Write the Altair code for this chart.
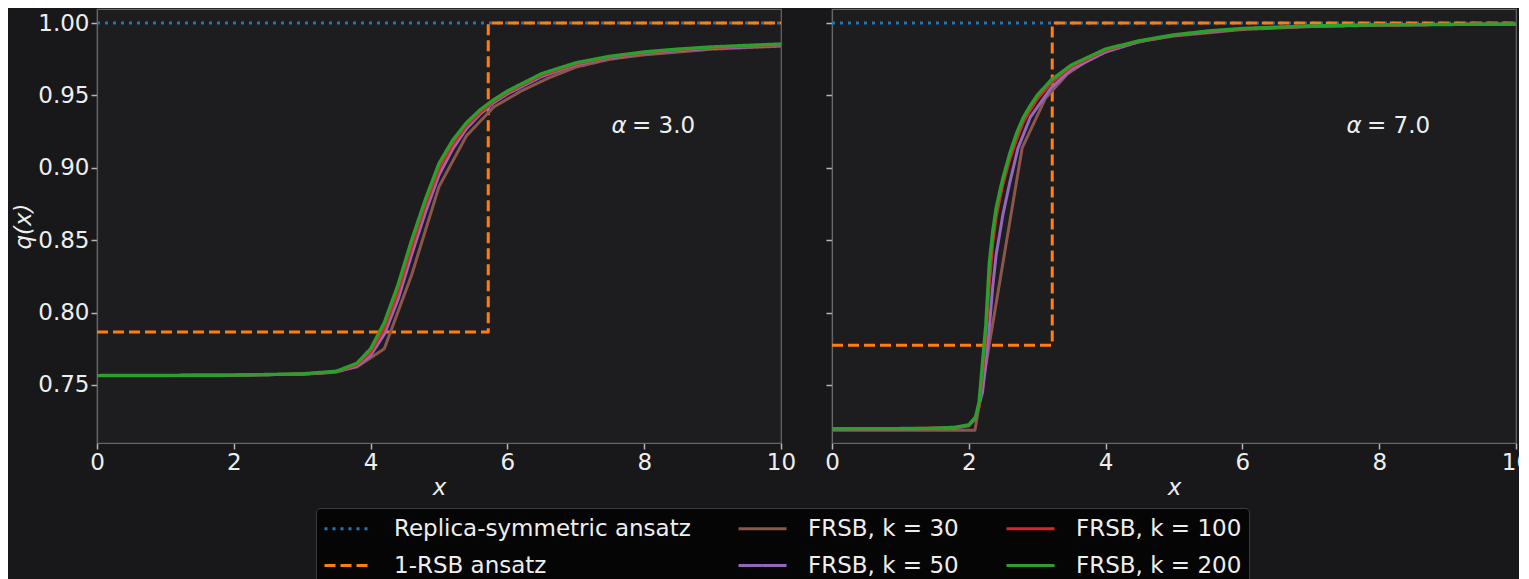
import altair as alt
import pandas as pd

# ---------------- data: left panel (alpha = 3.0) ----------------
L_RS_X = [0.0, 10.0]
L_RS_Q = [1.0, 1.0]
L_1RSB_X = [0.0, 5.72, 5.72, 10.0]
L_1RSB_Q = [0.7866, 0.7866, 1.0, 1.0]

L_X = [0, 1, 2, 3, 3.5, 3.8, 4.0, 4.2, 4.4, 4.6, 4.8, 5.0, 5.2, 5.4, 5.6, 5.8,
       6.0, 6.5, 7.0, 7.5, 8.0, 8.5, 9.0, 9.5, 10]
L_K200 = [0.7565, 0.7566, 0.7568, 0.7577, 0.7595, 0.765, 0.775, 0.793, 0.819, 0.850,
          0.878, 0.903, 0.919, 0.931, 0.940, 0.947, 0.953, 0.965, 0.9725, 0.977,
          0.980, 0.982, 0.9835, 0.9845, 0.9855]
L_K100 = [0.7565, 0.7566, 0.7568, 0.7576, 0.7592, 0.7640, 0.7725, 0.789, 0.814, 0.845,
          0.874, 0.899, 0.916, 0.929, 0.938, 0.946, 0.952, 0.964, 0.9718, 0.9765,
          0.9795, 0.9815, 0.983, 0.984, 0.985]
L_K50 = [0.7565, 0.7566, 0.7568, 0.7575, 0.7590, 0.7630, 0.7705, 0.785, 0.809, 0.840,
         0.869, 0.895, 0.913, 0.927, 0.937, 0.945, 0.951, 0.963, 0.9712, 0.976,
         0.979, 0.981, 0.9825, 0.9835, 0.9845]
L_K30_X = [0, 1, 2, 3, 3.4, 3.8, 4.2, 4.6, 5.0, 5.4, 5.8, 6.2, 6.6, 7.0, 7.5, 8, 8.5, 9, 9.5, 10]
L_K30 = [0.7565, 0.7566, 0.7568, 0.7574, 0.7585, 0.7625, 0.775, 0.826, 0.887, 0.922,
         0.942, 0.953, 0.962, 0.9695, 0.975, 0.978, 0.980, 0.982, 0.983, 0.984]

# ---------------- data: right panel (alpha = 7.0) ----------------
R_RS_X = [0.0, 10.0]
R_RS_Q = [1.0, 1.0]
R_1RSB_X = [0.0, 3.22, 3.22, 10.0]
R_1RSB_Q = [0.7775, 0.7775, 1.0, 1.0]

R_K200_X = [0, 1, 1.5, 1.8, 2.0, 2.1, 2.15, 2.2, 2.25, 2.3, 2.35, 2.4, 2.45, 2.5, 2.6,
            2.7, 2.8, 2.9, 3.0, 3.2, 3.5, 4.0, 4.5, 5.0, 5.5, 6.0, 7.0, 8.0, 9.0, 10.0]
R_K200 = [0.7198, 0.7199, 0.7201, 0.7208, 0.7225, 0.728, 0.738, 0.765, 0.792, 0.834,
          0.856, 0.872, 0.883, 0.893, 0.910, 0.924, 0.935, 0.943, 0.950, 0.9605,
          0.971, 0.982, 0.9878, 0.9918, 0.9945, 0.9962, 0.998, 0.9987, 0.999, 0.9992]
R_K100_X = [0, 1, 1.8, 2.0, 2.1, 2.15, 2.2, 2.25, 2.3, 2.35, 2.4, 2.45, 2.5, 2.6, 2.7,
            2.8, 2.9, 3.0, 3.2, 3.5, 4.0, 4.5, 5.0, 5.5, 6.0, 7.0, 8.0, 9.0, 10.0]
R_K100 = [0.7197, 0.7198, 0.7206, 0.7222, 0.7275, 0.735, 0.758, 0.784, 0.820, 0.848,
          0.866, 0.878, 0.889, 0.906, 0.920, 0.932, 0.940, 0.9475, 0.9585, 0.9698,
          0.9812, 0.9875, 0.9916, 0.9943, 0.996, 0.9979, 0.9986, 0.999, 0.9992]
R_K50_X = [0, 1, 1.8, 2.0, 2.1, 2.2, 2.25, 2.3, 2.35, 2.4, 2.5, 2.6, 2.72, 2.9, 3.2,
           3.5, 4.0, 4.5, 5.0, 6.0, 7.0, 8.0, 9.0, 10.0]
R_K50 = [0.7195, 0.7196, 0.7203, 0.7218, 0.727, 0.745, 0.765, 0.79, 0.818, 0.84,
         0.868, 0.89, 0.9137, 0.935, 0.955, 0.968, 0.980, 0.9872, 0.9915, 0.996,
         0.9978, 0.9986, 0.999, 0.9992]
R_K30_X = [0, 1, 2.09, 2.78, 3.12, 3.44, 3.8, 4.2, 4.6, 5.0, 6.0, 7.0, 8.0, 9.0, 10.0]
R_K30 = [0.7187, 0.7187, 0.7188, 0.9137, 0.948, 0.9648, 0.976, 0.984, 0.988, 0.991,
         0.9955, 0.9975, 0.9985, 0.999, 0.9992]

# ---------------- series names / styles ----------------
S_RS = "Replica-symmetric ansatz"
S_1RSB = "1-RSB ansatz"
S_30 = "FRSB, k = 30"
S_50 = "FRSB, k = 50"
S_100 = "FRSB, k = 100"
S_200 = "FRSB, k = 200"

LEGEND_ORDER = [S_RS, S_30, S_100, S_1RSB, S_50, S_200]
LEGEND_COLORS = ["#1f77b4", "#8c564b", "#d62728", "#ff7f0e", "#9467bd", "#2ca02c"]
LEGEND_DASHES = [[3, 5], [1, 0], [1, 0], [11, 5], [1, 0], [1, 0]]
DRAW_ORDER = [S_RS, S_1RSB, S_30, S_50, S_100, S_200]

FONT = "DejaVu Sans"
FS = 23


def frame(series_list):
    rows = []
    for name, xs, qs in series_list:
        for i, (x, q) in enumerate(zip(xs, qs)):
            rows.append({"series": name, "x": x, "q": q, "i": i})
    return pd.DataFrame(rows)


left_df = frame([
    (S_RS, L_RS_X, L_RS_Q), (S_1RSB, L_1RSB_X, L_1RSB_Q),
    (S_30, L_K30_X, L_K30), (S_50, L_X, L_K50),
    (S_100, L_X, L_K100), (S_200, L_X, L_K200),
])
right_df = frame([
    (S_RS, R_RS_X, R_RS_Q), (S_1RSB, R_1RSB_X, R_1RSB_Q),
    (S_30, R_K30_X, R_K30), (S_50, R_K50_X, R_K50),
    (S_100, R_K100_X, R_K100), (S_200, R_K200_X, R_K200),
])

legend = alt.Legend(
    orient="none", legendX=219, legendY=499, columns=3, direction="horizontal",
    title=None, symbolType="M-1,0H3", symbolSize=576, symbolStrokeWidth=3,
    labelFont=FONT, labelFontSize=FS, labelColor="#eeeeee", labelOffset=44,
    fillColor="#050505", strokeColor="#3c3c3c", padding=7, rowPadding=11,
    columnPadding=41, cornerRadius=4, labelLimit=400,
)
color_scale = alt.Scale(domain=LEGEND_ORDER, range=LEGEND_COLORS)
dash_scale = alt.Scale(domain=LEGEND_ORDER, range=LEGEND_DASHES)

Y_DOMAIN = [0.70994, 1.00967]


def panel(df, value_text, show_labels):
    xenc = alt.X("x:Q", scale=alt.Scale(domain=[0, 10], nice=False, zero=False),
                 axis=alt.Axis(values=[0, 2, 4, 6, 8, 10], title="x", labelFlush=False,
                               titleFontStyle="italic", titleFontWeight="normal"))
    if show_labels:
        yaxis = alt.Axis(values=[0.75, 0.8, 0.85, 0.9, 0.95, 1.0], format=".2f",
                         title="q(x)", titleFontStyle="italic", titleFontWeight="normal")
    else:
        yaxis = alt.Axis(values=[0.75, 0.8, 0.85, 0.9, 0.95, 1.0], labels=False, title=None)
    yenc = alt.Y("q:Q", scale=alt.Scale(domain=Y_DOMAIN, nice=False, zero=False), axis=yaxis)
    layers = []
    for s in DRAW_ORDER:
        layers.append(
            alt.Chart(df).transform_filter(alt.datum.series == s)
            .mark_line(strokeWidth=3.4 if s == S_200 else 3, clip=True,
                       strokeJoin="round", strokeCap="butt")
            .encode(x=xenc, y=yenc, order="i:Q",
                    color=alt.Color("series:N", scale=color_scale, legend=legend),
                    strokeDash=alt.StrokeDash("series:N", scale=dash_scale, legend=legend))
        )
    one = pd.DataFrame({"a": [0]})
    alpha_sym = alt.Chart(one).mark_text(
        font=FONT, fontSize=FS, fontStyle="italic", color="#eeeeee",
        align="center", baseline="middle", text="α",
    ).encode(x=alt.value(522), y=alt.value(117))
    alpha_val = alt.Chart(one).mark_text(
        font=FONT, fontSize=FS, color="#eeeeee",
        align="left", baseline="middle", text=value_text,
    ).encode(x=alt.value(535), y=alt.value(117))
    return alt.layer(*layers, alpha_sym, alpha_val).properties(width=684, height=434)


chart = alt.hconcat(
    panel(left_df, "= 3.0", True),
    panel(right_df, "= 7.0", False),
    spacing=27,
).properties(
    padding={"left": 4, "top": 0, "right": -13, "bottom": 0},
    background="#18181a",
).configure_view(
    fill="#1d1d1f", stroke="#666666", strokeWidth=1.2,
).configure_axis(
    domainColor="#666666", domainWidth=1.2, tickColor="#b5b5b5", tickWidth=1.5,
    tickSize=6, labelFont=FONT, labelFontSize=FS, labelColor="#eeeeee",
    titleFont=FONT, titleFontSize=FS, titleColor="#eeeeee", grid=False,
    labelPadding=2, titlePadding=2,
)

chart.save("out.html", embed_options={"renderer": "svg", "actions": False})
